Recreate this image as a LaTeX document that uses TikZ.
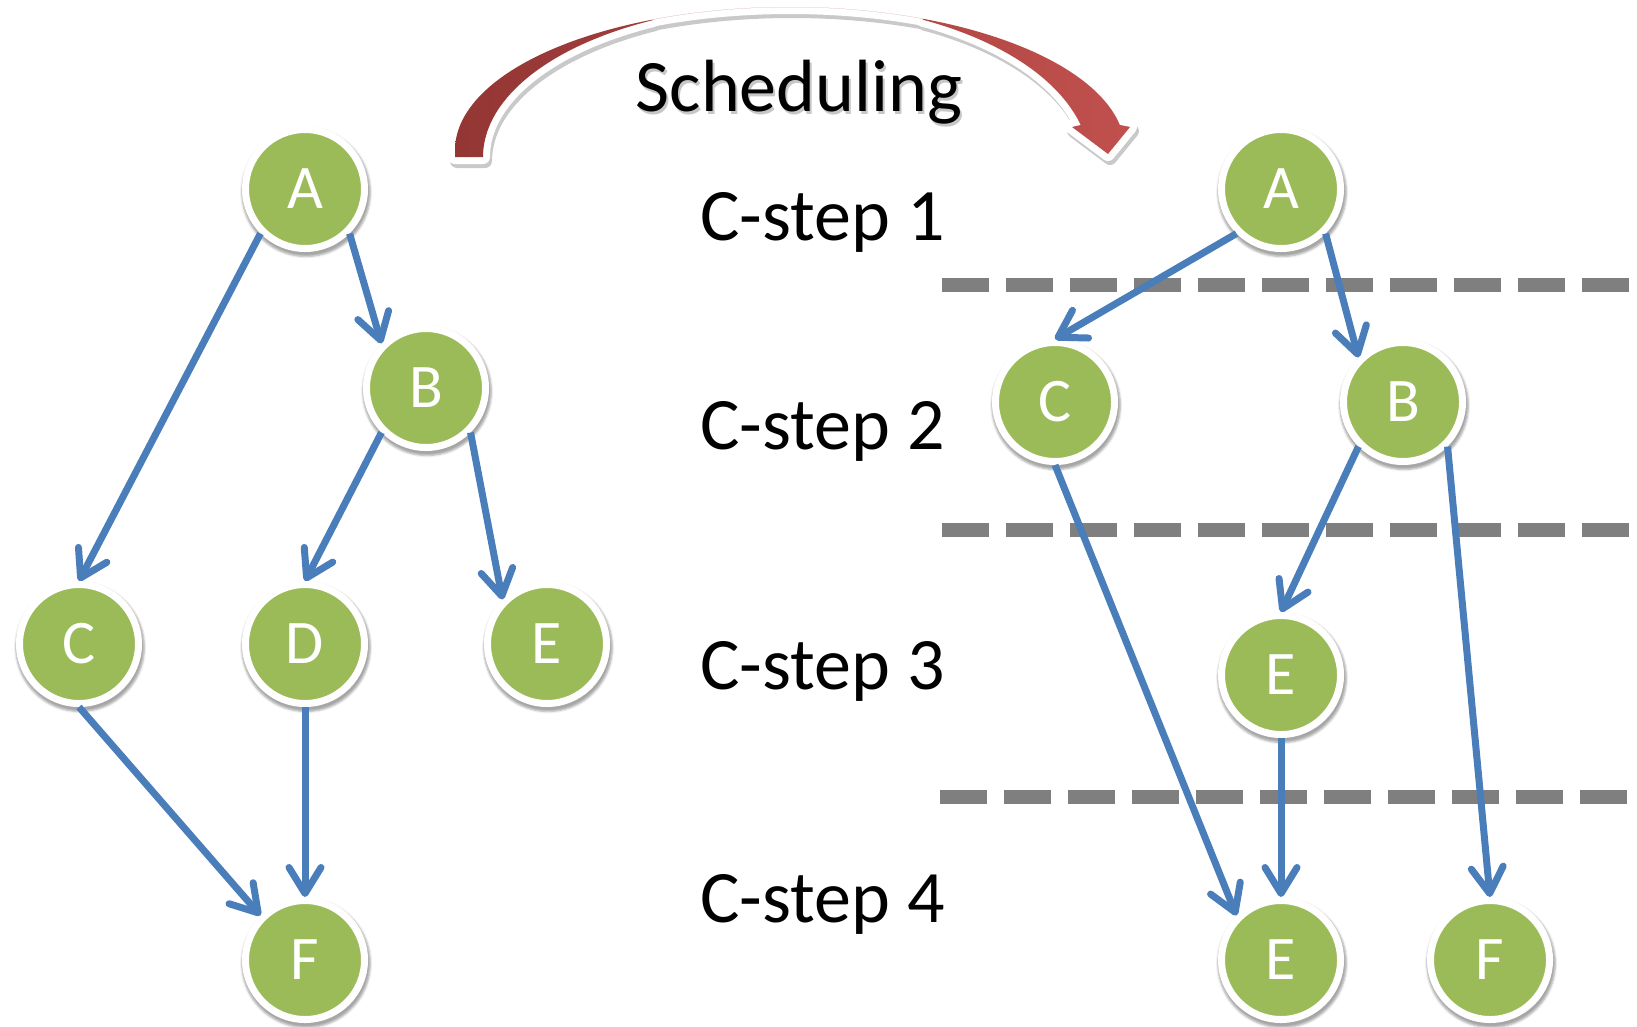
\documentclass[tikz,border=0pt]{standalone}
\usepackage{fontspec}
\setmainfont{Carlito}
\usetikzlibrary{arrows.meta,shadows.blur}
\definecolor{opgreen}{HTML}{9BBB59}
\definecolor{edgeblue}{HTML}{4A7EBB}
\definecolor{stepgray}{HTML}{7F7F7F}
\definecolor{schedlight}{HTML}{C0504D}
\definecolor{scheddark}{HTML}{943634}

% curved block arrow: outer rim, head, inner rims (the top part is retraced)
\newcommand{\schedarrow}{(455,157)
  -- plot[domain=180:114.1] ({790+335*cos(\x)},{150-143*sin(\x)})
  -- plot[domain=114.1:66.6] ({790+335*cos(\x)},{150-143*sin(\x)})
  -- plot[domain=66.6:10.1] ({790+335*cos(\x)},{150-143*sin(\x)})
  -- (1130,127) -- (1108,154) -- (1072,127)
  -- plot[domain=14.3:63.7] ({790+300*cos(\x)},{165-162*sin(\x)})
  -- plot[domain=66.6:114.1] ({790+335*cos(\x)},{150-143*sin(\x)})
  -- plot[domain=116.5:180] ({790+307*cos(\x)},{157-153*sin(\x)})
  -- cycle}

\begin{document}
\begin{tikzpicture}[x=1pt,y=-1pt,samples=40,
    op/.style={circle,fill=opgreen,draw=white,line width=7pt,minimum size=119pt,
      inner sep=0pt,text=white,font=\fontsize{62}{62}\selectfont,
      blur shadow={shadow xshift=1pt,shadow yshift=-3pt,shadow scale=1.08,shadow opacity=35}},
    flow/.style={draw=edgeblue,line width=7pt,
      -{Straight Barb[length=26pt,width=32pt,line join=round,line cap=round]}},
    cstep/.style={font=\fontsize{74}{74}\selectfont,anchor=base west},
    boundary/.style={draw=stepgray,line width=14pt,dash pattern=on 47pt off 17pt}]
  \useasboundingbox (0,0) rectangle (1637,1026);

  % scheduling arrow
  \begin{scope}[transparency group,opacity=0.3]
    \path[fill=black!70,draw=black!70,line width=14pt,line join=round,shift={(2,4)}] \schedarrow;
  \end{scope}
  \path[draw=white,fill=white,line width=14pt,line join=round] \schedarrow;
  \shade[left color=scheddark,right color=schedlight] \schedarrow;

  \node[font=\fontsize{74}{74}\selectfont,anchor=base,text=black,opacity=0.22] (schedsh) at (801,114) {Scheduling};
  \node[font=\fontsize{74}{74}\selectfont,anchor=base] (sched) at (799,111) {Scheduling};

  % control steps
  \node[cstep] (cs1) at (697,240) {C-step 1};
  \node[cstep] (cs2) at (697,449) {C-step 2};
  \node[cstep] (cs3) at (697,689) {C-step 3};
  \node[cstep] (cs4) at (697,922) {C-step 4};

  \draw[boundary] (942,285) -- (1632,285);
  \draw[boundary] (942,530) -- (1632,530);
  \draw[boundary] (940,797) -- (1630,797);

  % data flow graph
  \path
  (305,189) node[op](al) {A}
  (426,388) node[op](bl) {B}
  (79,644) node[op](cl) {C}
  (305,644) node[op](dl) {D}
  (547,644) node[op](el) {E}
  (305,960) node[op](fl) {F}
  ;

  \draw[flow] (al.-135) -- (cl.north);
  \draw[flow] (al.-45) -- (bl.135);
  \draw[flow] (bl.-135) -- (dl.north);
  \draw[flow] (bl.-45) -- (el.135);
  \draw[flow] (cl.south) -- (fl.135);
  \draw[flow] (dl.south) -- (fl.north);

  % scheduled graph
  \path
  (1281,189) node[op](ar) {A}
  (1055,402) node[op](cr) {C}
  (1403,402) node[op](br) {B}
  (1281,675) node[op](er) {E}
  (1281,960) node[op](e4r) {E}
  (1490,960) node[op](fr) {F}
  ;

  \draw[flow] (ar.-135) -- (cr.north);
  \draw[flow] (ar.-45) -- (br.135);
  \draw[flow] (cr.south) -- (e4r.135);
  \draw[flow] (br.-135) -- (er.north);
  \draw[flow] (br.-45) -- (fr.north);
  \draw[flow] (er.south) -- (e4r.north);
\end{tikzpicture}
\end{document}
